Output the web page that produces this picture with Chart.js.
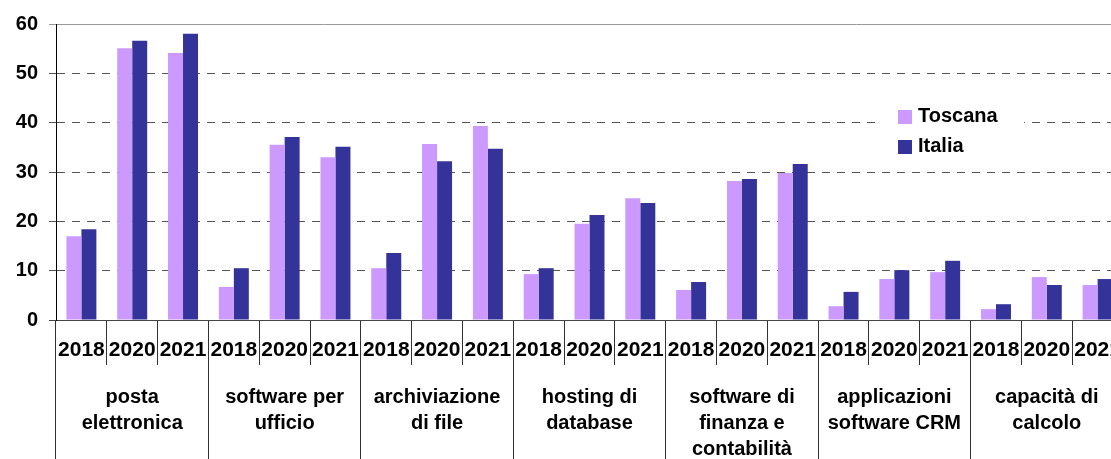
<!DOCTYPE html>
<html>
<head>
<meta charset="utf-8">
<script src="https://cdn.jsdelivr.net/npm/chart.js@4.4.0/dist/chart.umd.min.js"></script>
<style>
    html, body { margin: 0; padding: 0; background: #fff; overflow: hidden; }
    #wrap { position: relative; width: 1124px; height: 459px; }
</style>
</head>
<body>
<div id="wrap"><canvas id="chart"></canvas></div>
<script>
// ===== Data =====
const categories = [
    ['posta', 'elettronica'],
    ['software per', 'ufficio'],
    ['archiviazione', 'di file'],
    ['hosting di', 'database'],
    ['software di', 'finanza e', 'contabilità'],
    ['applicazioni', 'software CRM'],
    ['capacità di', 'calcolo']
];
const years = ['2018', '2020', '2021'];
const seriesNames = ['Toscana', 'Italia'];
const toscana = [17.0, 55.1, 54.1, 6.7, 35.5, 33.0, 10.5, 35.7, 39.3, 9.3, 19.5, 24.7, 6.1, 28.2, 29.8, 2.8, 8.3, 9.7, 2.2, 8.7, 7.1];
const italia = [18.4, 56.6, 58.0, 10.5, 37.1, 35.1, 13.6, 32.2, 34.7, 10.5, 21.3, 23.7, 7.7, 28.6, 31.6, 5.7, 10.1, 12.0, 3.2, 7.1, 8.3];
const yMax = 60;
const yStep = 10;

const colors = ['#cc99ff', '#333399'];

Chart.defaults.font.family = "'Liberation Sans', Arial, sans-serif";
Chart.defaults.font.weight = 'bold';
Chart.defaults.color = '#000';

// one x label per bar group (year repeated for each category)
const xLabels = [];
categories.forEach(() => years.forEach(y => xLabels.push(y)));

// Category names and long separators under the year row
const groupLabels = {
    id: 'groupLabels',
    afterDraw(chart) {
        const { ctx, chartArea } = chart;
        const x = chart.scales.x;
        const slot = x.getPixelForValue(1) - x.getPixelForValue(0);
        const bottom = chart.height;
        ctx.save();
        ctx.strokeStyle = '#333';
        ctx.lineWidth = 1;
        ctx.fillStyle = '#000';
        ctx.font = "bold 20px 'Liberation Sans', Arial, sans-serif";
        ctx.textAlign = 'center';
        ctx.textBaseline = 'alphabetic';
        categories.forEach((lines, c) => {
            const first = c * years.length;
            const left = Math.round(x.getPixelForValue(first) - slot / 2 - 0.5) + 0.5;
            ctx.beginPath();
            ctx.moveTo(left, chartArea.bottom + 45);
            ctx.lineTo(left, bottom);
            ctx.stroke();
            const cx = x.getPixelForValue(first + 1);
            lines.forEach((txt, i) => {
                ctx.fillText(txt, cx, chartArea.bottom + 83 + i * 26);
            });
        });
        ctx.restore();
    }
};

// Legend box sitting inside the plot, on top of the grid
const innerLegend = {
    id: 'innerLegend',
    afterDraw(chart) {
        const { ctx, chartArea } = chart;
        const left = chartArea.left + 821;
        const top = chartArea.top + 74;
        ctx.save();
        ctx.fillStyle = '#fff';
        ctx.fillRect(left, top, 147, 66);
        ctx.font = "bold 20px 'Liberation Sans', Arial, sans-serif";
        ctx.textBaseline = 'middle';
        ctx.textAlign = 'left';
        chart.data.datasets.forEach((ds, i) => {
            const by = top + 12 + i * 30;
            ctx.fillStyle = ds.backgroundColor;
            ctx.fillRect(left + 21, by, 14, 14);
            ctx.fillStyle = '#000';
            ctx.fillText(ds.label, left + 41, by + 6);
        });
        ctx.restore();
    }
};

const ctx = document.getElementById('chart').getContext('2d');
const chart = new Chart(ctx, {
    type: 'bar',
    data: {
        labels: xLabels,
        datasets: [
            {
                label: seriesNames[0],
                data: toscana,
                backgroundColor: colors[0],
                borderWidth: 0
            },
            {
                label: seriesNames[1],
                data: italia,
                backgroundColor: colors[1],
                borderWidth: 0
            }
        ]
    },
    options: {
        responsive: true,
        maintainAspectRatio: false,
        animation: false,
        categoryPercentage: 0.59,
        barPercentage: 1.0,
        layout: { padding: { top: 24, right: 1, left: 0, bottom: 0 } },
        plugins: {
            legend: { display: false },
            tooltip: { enabled: false }
        },
        scales: {
            x: {
                grid: {
                    offset: true,
                    drawOnChartArea: false,
                    drawTicks: true,
                    tickLength: 45,
                    color: '#333',
                    lineWidth: 1
                },
                border: { color: '#444', width: 1 },
                ticks: {
                    font: { size: 21, weight: 'bold' },
                    color: '#000',
                    padding: -27,
                    maxRotation: 0,
                    autoSkip: false
                },
                afterFit(scale) { scale.height = 139; }
            },
            y: {
                min: 0,
                max: yMax,
                ticks: {
                    stepSize: yStep,
                    font: { size: 20, weight: 'bold' },
                    color: '#000',
                    padding: 11
                },
                grid: {
                    tickLength: 7,
                    lineWidth: 1,
                    color: (c) => {
                        if (!c.tick) return '#555';
                        if (c.tick.value === yMax) return '#999';
                        if (c.tick.value === 0) return '#444';
                        return '#555';
                    }
                },
                border: {
                    color: '#000',
                    width: 1,
                    dash: (c) => {
                        if (!c.tick) return [];
                        if (c.tick.value === yMax || c.tick.value === 0) return [];
                        return [8, 7];
                    }
                },
                afterFit(scale) { scale.width = 56; }
            }
        }
    },
    plugins: [groupLabels, innerLegend]
});
</script>
</body>
</html>
